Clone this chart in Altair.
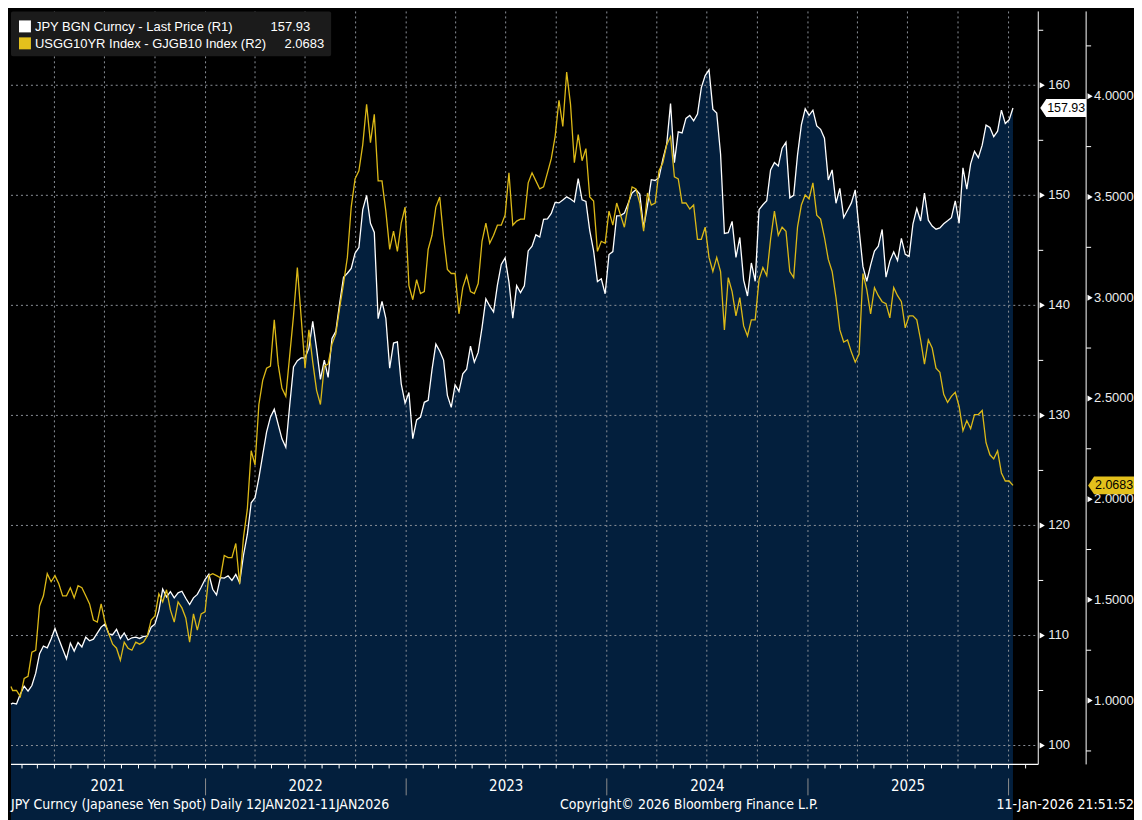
import altair as alt
import pandas as pd

# ---------------- data (weekly readings, last price) ----------------
jpy_2021 = [103.76, 103.85, 103.78, 104.68, 105.39, 104.95, 105.45, 106.57, 108.35, 109.04,
            108.88, 109.68, 110.64, 109.67, 108.78, 107.88, 109.31, 108.58, 109.36, 108.95,
            109.84, 109.52, 109.66, 110.21, 110.76, 111.04, 110.15, 110.07, 110.56, 109.72,
            110.23, 109.59, 109.79, 109.84, 109.73, 109.92, 109.94, 110.75, 111.05, 112.24,
            114.22, 113.50, 113.99, 113.42, 113.88, 114.02, 113.38, 112.81, 113.42, 113.73,
            114.38, 115.08]
jpy_2022 = [115.56, 114.20, 113.68, 115.25, 115.22, 115.43, 115.00, 115.55, 114.80, 117.29,
            119.18, 122.06, 122.52, 124.33, 126.42, 128.48, 129.84, 130.56, 129.20, 127.87,
            127.11, 130.86, 134.41, 134.97, 135.22, 135.22, 136.11, 138.55, 136.05, 133.27,
            135.02, 133.45, 137.00, 137.63, 140.20, 142.55, 142.92, 143.36, 144.74, 145.26,
            148.70, 150.00, 147.46, 146.62, 138.79, 140.36, 138.83, 134.30, 136.57, 136.69,
            132.87, 131.12]
jpy_2023 = [132.08, 127.88, 129.59, 129.85, 131.19, 131.36, 134.16, 136.48, 135.85, 135.03,
            131.81, 130.73, 132.77, 132.18, 133.78, 134.19, 136.30, 134.84, 135.72, 137.98,
            140.59, 139.94, 139.40, 141.83, 143.72, 144.31, 142.11, 138.83, 141.79, 141.16,
            141.77, 144.95, 145.38, 146.41, 146.21, 147.82, 147.85, 148.35, 149.36, 149.31,
            149.57, 149.86, 149.66, 149.40, 151.52, 149.59, 149.44, 146.80, 144.95, 142.16,
            142.41, 141.05]
jpy_2024 = [144.62, 144.89, 148.14, 148.16, 148.38, 149.28, 150.22, 150.51, 150.11, 147.06,
            149.06, 151.42, 151.35, 151.62, 153.29, 154.64, 158.33, 152.97, 155.77, 155.67,
            156.99, 157.26, 156.77, 157.39, 159.79, 160.88, 161.40, 157.83, 157.47, 153.76,
            146.53, 146.61, 147.63, 144.36, 146.17, 142.30, 140.85, 143.85, 142.19, 148.70,
            149.14, 149.51, 152.31, 152.97, 152.66, 154.28, 154.82, 149.77, 150.00, 153.65,
            156.40, 157.86]
jpy_2025 = [157.27, 157.74, 156.30, 156.00, 155.19, 151.40, 152.31, 149.28, 150.63, 147.99,
            148.64, 149.31, 150.50, 146.91, 143.54, 142.19, 143.66, 144.94, 145.37, 146.90,
            142.57, 144.02, 144.86, 144.07, 146.09, 144.64, 144.45, 147.38, 148.80, 147.67,
            150.20, 147.74, 147.20, 146.92, 147.04, 147.41, 147.68, 147.97, 149.49, 147.46,
            152.50, 150.57, 152.86, 154.00, 153.42, 154.56, 156.38, 156.16, 155.33, 155.83,
            157.74, 156.52]
jpy_2026 = [156.86, 157.93]

spread_2021 = [1.07, 1.05, 1.05, 1.02, 1.11, 1.12, 1.24, 1.25, 1.47, 1.52,
               1.63, 1.59, 1.62, 1.58, 1.52, 1.52, 1.56, 1.51, 1.57, 1.56,
               1.52, 1.48, 1.40, 1.39, 1.48, 1.39, 1.33, 1.28, 1.26, 1.20,
               1.29, 1.26, 1.25, 1.29, 1.28, 1.29, 1.32, 1.40, 1.42, 1.53,
               1.49, 1.55, 1.45, 1.39, 1.49, 1.46, 1.41, 1.29, 1.43, 1.35,
               1.43, 1.44]
spread_2022 = [1.62, 1.63, 1.62, 1.61, 1.72, 1.71, 1.71, 1.78, 1.58, 1.81,
               1.95, 2.24, 2.17, 2.47, 2.59, 2.65, 2.66, 2.89, 2.67, 2.55,
               2.51, 2.71, 2.91, 3.15, 2.90, 2.65, 2.84, 2.68, 2.54, 2.47,
               2.66, 2.67, 2.77, 2.82, 2.95, 3.07, 3.20, 3.45, 3.59, 3.63,
               3.76, 3.96, 3.77, 3.91, 3.58, 3.58, 3.43, 3.24, 3.33, 3.23,
               3.37, 3.45]
spread_2023 = [3.06, 2.99, 3.09, 3.02, 3.03, 3.24, 3.31, 3.45, 3.50, 3.30,
               3.14, 3.12, 3.12, 2.92, 3.05, 3.11, 3.03, 3.02, 3.07, 3.28,
               3.37, 3.27, 3.31, 3.36, 3.36, 3.41, 3.62, 3.36, 3.38, 3.39,
               3.39, 3.57, 3.62, 3.58, 3.54, 3.55, 3.62, 3.69, 3.80, 3.98,
               3.85, 4.12, 3.96, 3.67, 3.81, 3.68, 3.74, 3.50, 3.48, 3.23,
               3.28, 3.27]
spread_2024 = [3.43, 3.36, 3.47, 3.41, 3.35, 3.46, 3.55, 3.54, 3.47, 3.33,
               3.52, 3.46, 3.47, 3.63, 3.67, 3.76, 3.80, 3.60, 3.59, 3.47,
               3.47, 3.44, 3.46, 3.29, 3.29, 3.35, 3.20, 3.13, 3.20, 3.13,
               2.84, 3.10, 3.03, 2.91, 3.00, 2.86, 2.81, 2.89, 2.89, 3.09,
               3.15, 3.11, 3.29, 3.43, 3.31, 3.35, 3.33, 3.13, 3.10, 3.35,
               3.46, 3.51]
spread_2025 = [3.49, 3.57, 3.41, 3.39, 3.30, 3.19, 3.13, 3.00, 2.84, 2.78,
               2.79, 2.73, 2.68, 2.72, 3.12, 3.04, 2.92, 3.05, 3.01, 2.98,
               2.97, 2.90, 3.05, 3.01, 2.98, 2.85, 2.91, 2.91, 2.89, 2.79,
               2.67, 2.79, 2.75, 2.65, 2.63, 2.52, 2.48, 2.51, 2.53, 2.46,
               2.34, 2.39, 2.35, 2.42, 2.42, 2.44, 2.28, 2.22, 2.20, 2.24,
               2.13, 2.09]
spread_2026 = [2.09, 2.0683]

legend_names = ["JPY BGN Curncy - Last Price (R1)", "USGG10YR Index - GJGB10 Index (R2)"]
legend_values = ["157.93", "2.0683"]
r1_major = [100, 110, 120, 130, 140, 150, 160]
r1_minor = [105, 115, 125, 135, 145, 155, 165]
r2_major = [1.0, 1.5, 2.0, 2.5, 3.0, 3.5, 4.0]
r2_minor = [0.75, 1.25, 1.75, 2.25, 2.75, 3.25, 3.75, 4.25]
year_labels = ["2021", "2022", "2023", "2024", "2025"]
year_label_dates = ["2021-07-07", "2022-07-02", "2023-07-02", "2024-07-02", "2025-07-02"]
footer_left = "JPY Curncy (Japanese Yen Spot) Daily 12JAN2021-11JAN2026"
footer_mid = "Copyright\u00a9 2026 Bloomberg Finance L.P."
footer_right = "11-Jan-2026 21:51:52"


def fridays(start, end):
    return list(pd.date_range(start, end, freq="W-FRI"))


dates = ([pd.Timestamp("2021-01-12")] + fridays("2021-01-13", "2021-12-31")
         + fridays("2022-01-01", "2022-12-31") + fridays("2023-01-01", "2023-12-31")
         + fridays("2024-01-01", "2024-12-31") + fridays("2025-01-01", "2025-12-31")
         + fridays("2026-01-01", "2026-01-09"))
jpy = jpy_2021 + jpy_2022 + jpy_2023 + jpy_2024 + jpy_2025 + jpy_2026
spread = spread_2021 + spread_2022 + spread_2023 + spread_2024 + spread_2025 + spread_2026
n = min(len(dates), len(jpy), len(spread))
df = pd.DataFrame({"date": dates[:n], "jpy": jpy[:n], "spread": spread[:n]})

quarters = pd.DataFrame({"d": pd.date_range("2021-04-01", "2026-01-01", freq="QS")})
months = pd.DataFrame({"d": pd.date_range("2021-02-01", "2026-02-01", freq="MS")})
years = pd.DataFrame({"d": pd.date_range("2022-01-01", "2026-01-01", freq="YS")})
ylab = pd.DataFrame({"d": pd.to_datetime(year_label_dates), "t": year_labels})
r1maj = pd.DataFrame({"v": r1_major, "t": [str(v) for v in r1_major]})
r1min = pd.DataFrame({"v": r1_minor})
r2maj = pd.DataFrame({"v": r2_major, "t": [f"{v:.4f}" for v in r2_major]})
r2min = pd.DataFrame({"v": r2_minor})
last1 = pd.DataFrame({"v": [jpy[-1]], "t": [legend_values[0]]})
last2 = pd.DataFrame({"v": [spread[-1]], "t": [legend_values[1]]})
one = pd.DataFrame({"k": [0]})

# ---------------- style ----------------
W, H = 1030, 755
NAVY = "#031f3d"
GOLD = "#dcb917"
GRID = "#8b9098"
FONT = "Liberation Sans"
COND = "Liberation Sans Narrow, DejaVu Sans Condensed, Liberation Sans, sans-serif"
TAG = "M -1 0 L -0.74 -0.39 L 1 -0.39 L 1 0.39 L -0.74 0.39 Z"

xs = alt.Scale(domain=[alt.DateTime(year=2021, month=1, date=12),
                       alt.DateTime(year=2026, month=2, date=24)])
y1s = alt.Scale(domain=[98.28, 166.71], zero=False, nice=False)
y2s = alt.Scale(domain=[0.683, 4.421], zero=False, nice=False)


def Y1(f):
    return alt.Y(f, scale=y1s, axis=None)


def Y2(f):
    return alt.Y(f, scale=y2s, axis=None)


def XT(f):
    return alt.X(f, scale=xs, axis=None)


def text_layer(s, x, y, **kw):
    return alt.Chart(pd.DataFrame({"t": [s]})).mark_text(**kw).encode(
        x=alt.value(x), y=alt.value(y), text="t:N")


base = alt.Chart(df)
layers = []
layers.append(base.mark_area(color=NAVY, opacity=1).encode(
    XT("date:T"), y=Y1("jpy:Q"), y2=alt.value(H)))
layers.append(alt.Chart(quarters).mark_rule(color=GRID, strokeDash=[2, 3], strokeWidth=1).encode(
    XT("d:T"), y=alt.value(0), y2=alt.value(H)))
layers.append(alt.Chart(r1maj).mark_rule(color=GRID, strokeDash=[2, 3], strokeWidth=1).encode(
    y=Y1("v:Q"), x=alt.value(0), x2=alt.value(W)))
layers.append(base.mark_line(color="#ffffff", strokeWidth=1.3).encode(XT("date:T"), y=Y1("jpy:Q")))
layers.append(base.mark_line(color=GOLD, strokeWidth=1.3).encode(XT("date:T"), y=Y2("spread:Q")))

# right axis R1
layers.append(alt.Chart(one).mark_rule(color="#ffffff").encode(
    x=alt.value(W), y=alt.value(0), y2=alt.value(H)))
layers.append(alt.Chart(r1maj).mark_point(shape="triangle-right", filled=True, color="#ffffff",
                                          size=36, opacity=1).encode(x=alt.value(W + 4), y=Y1("v:Q")))
layers.append(alt.Chart(r1min).mark_rule(color="#ffffff").encode(
    y=Y1("v:Q"), x=alt.value(W), x2=alt.value(W + 5)))
layers.append(alt.Chart(r1maj).mark_text(align="left", baseline="middle", color="#ececec",
                                         font=FONT, fontSize=13).encode(
    x=alt.value(W + 10), y=Y1("v:Q"), text="t:N"))

# right axis R2
A2 = W + 48
layers.append(alt.Chart(one).mark_rule(color="#ffffff").encode(
    x=alt.value(A2), y=alt.value(0), y2=alt.value(H)))
layers.append(alt.Chart(r2maj).mark_point(shape="triangle-right", filled=True, color="#ffffff",
                                          size=36, opacity=1).encode(x=alt.value(A2 + 4), y=Y2("v:Q")))
layers.append(alt.Chart(r2min).mark_rule(color="#ffffff").encode(
    y=Y2("v:Q"), x=alt.value(A2), x2=alt.value(A2 + 5)))
layers.append(alt.Chart(r2maj).mark_text(align="left", baseline="middle", color="#ececec",
                                         font=FONT, fontSize=13).encode(
    x=alt.value(A2 + 8), y=Y2("v:Q"), text="t:N"))

# last value tags
layers.append(alt.Chart(last1).mark_point(shape=TAG, filled=True, color="#ffffff", size=2116,
                                          opacity=1, strokeWidth=0).encode(x=alt.value(W + 25), y=Y1("v:Q")))
layers.append(alt.Chart(last1).mark_text(align="center", baseline="middle", color="#000000",
                                         font=FONT, fontSize=12.5).encode(
    x=alt.value(W + 28), y=Y1("v:Q"), text="t:N"))
layers.append(alt.Chart(last2).mark_point(shape=TAG, filled=True, color="#e3c01c", size=2116,
                                          opacity=1, strokeWidth=0).encode(x=alt.value(A2 + 25), y=Y2("v:Q")))
layers.append(alt.Chart(last2).mark_text(align="center", baseline="middle", color="#000000",
                                         font=FONT, fontSize=12.5).encode(
    x=alt.value(A2 + 28), y=Y2("v:Q"), text="t:N"))

# bottom axis
layers.append(alt.Chart(one).mark_rule(color="#ffffff", strokeWidth=1.2).encode(
    x=alt.value(0), x2=alt.value(W), y=alt.value(H)))
layers.append(alt.Chart(months).mark_rule(color="#ffffff").encode(
    XT("d:T"), y=alt.value(H), y2=alt.value(H + 4)))
layers.append(alt.Chart(years).mark_rule(color="#8c8c8c").encode(
    XT("d:T"), y=alt.value(H + 14), y2=alt.value(H + 31)))
layers.append(alt.Chart(ylab).mark_text(align="center", baseline="middle", color="#ffffff",
                                        font=COND, fontSize=15).encode(
    XT("d:T"), y=alt.value(H + 22), text="t:N"))

# footer
layers.append(text_layer(footer_left, 0, H + 41, align="left", baseline="middle",
                         color="#ffffff", font=COND, fontSize=14))
layers.append(text_layer(footer_mid, 680, H + 41, align="center", baseline="middle",
                         color="#ffffff", font=COND, fontSize=14))
layers.append(text_layer(footer_right, 1126, H + 41, align="right", baseline="middle",
                         color="#ffffff", font=COND, fontSize=14))

# legend box
layers.append(alt.Chart(one).mark_rect(color="#1b1b1b", cornerRadius=2).encode(
    x=alt.value(0), x2=alt.value(321), y=alt.value(0), y2=alt.value(45)))
layers.append(alt.Chart(one).mark_rect(color="#ffffff").encode(
    x=alt.value(8), x2=alt.value(20), y=alt.value(9), y2=alt.value(21)))
layers.append(alt.Chart(one).mark_rect(color="#e3c01c").encode(
    x=alt.value(8), x2=alt.value(20), y=alt.value(26), y2=alt.value(38)))
layers.append(text_layer(legend_names[0], 24, 15.5, align="left", baseline="middle",
                         color="#ffffff", font=FONT, fontSize=13))
layers.append(text_layer(legend_names[1], 24, 32.5, align="left", baseline="middle",
                         color="#ffffff", font=FONT, fontSize=13))
layers.append(text_layer(legend_values[0], 300, 15.5, align="right", baseline="middle",
                         color="#ffffff", font=FONT, fontSize=13))
layers.append(text_layer(legend_values[1], 314, 32.5, align="right", baseline="middle",
                         color="#ffffff", font=FONT, fontSize=13))

chart = alt.layer(*layers).resolve_scale(y="independent").properties(
    width=W, height=H, background="#000000", padding=0
).configure_view(stroke=None)

chart.save("out.html", embed_options={"renderer": "svg", "actions": False})
